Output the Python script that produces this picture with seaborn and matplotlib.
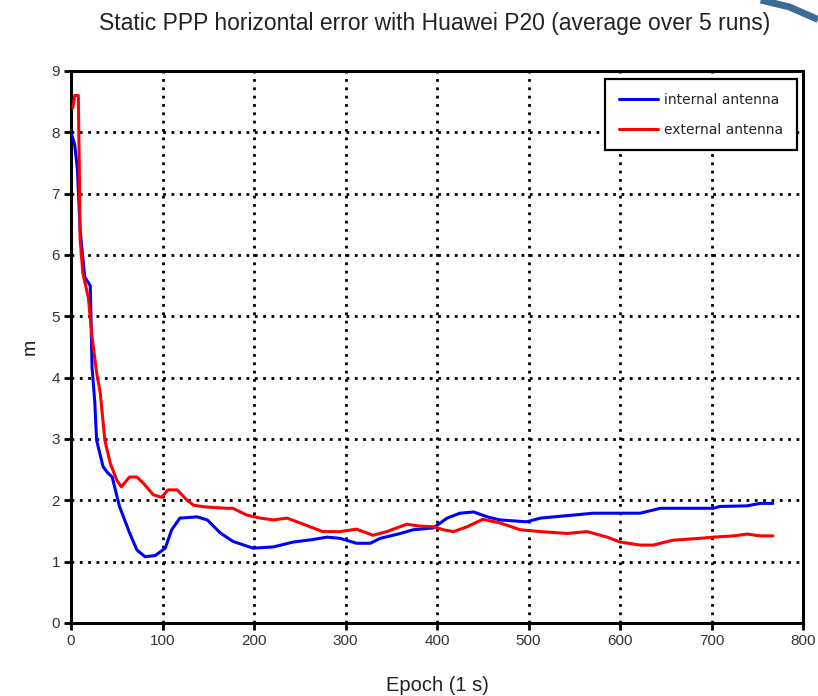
import numpy as np
import pandas as pd
import seaborn as sns
import matplotlib.pyplot as plt
from matplotlib.ticker import MultipleLocator
from matplotlib.lines import Line2D

# Horizontal error (m) per epoch, averaged over 5 runs
epoch_internal = [0, 4, 7, 10, 15, 21, 22, 23, 26, 28, 35, 40, 45, 53, 64, 72, 81, 92,
                  103, 110, 119, 138, 149, 163, 177, 199, 221, 243, 264, 280, 294,
                  312, 327, 338, 360, 374, 396, 411, 425, 440, 455, 469, 498, 513,
                  542, 571, 600, 622, 644, 673, 702, 709, 739, 753, 767]
error_internal = [8.0, 7.8, 7.4, 6.4, 5.64, 5.5, 4.9, 4.17, 3.6, 2.98, 2.55, 2.45, 2.38,
                  1.9, 1.47, 1.19, 1.08, 1.1, 1.22, 1.52, 1.71, 1.73, 1.68, 1.47,
                  1.33, 1.22, 1.24, 1.32, 1.36, 1.40, 1.38, 1.30, 1.30, 1.38, 1.46,
                  1.52, 1.55, 1.71, 1.79, 1.81, 1.73, 1.68, 1.65, 1.71, 1.75, 1.79,
                  1.79, 1.79, 1.87, 1.87, 1.87, 1.90, 1.91, 1.95, 1.95]

epoch_external = [2, 4, 8, 9, 10, 13, 19, 23, 28, 32, 37, 43, 50, 55, 64, 72, 79, 90,
                  99, 106, 116, 127, 134, 148, 170, 177, 192, 207, 221, 236, 247,
                  261, 275, 294, 312, 330, 345, 367, 381, 396, 407, 418, 433, 450,
                  469, 491, 513, 542, 564, 586, 600, 622, 636, 658, 687, 702, 724,
                  739, 753, 767]
error_external = [8.4, 8.6, 8.6, 7.5, 6.25, 5.7, 5.3, 4.67, 4.08, 3.75, 2.98, 2.6, 2.33,
                  2.22, 2.38, 2.38, 2.28, 2.09, 2.05, 2.17, 2.17, 2.0, 1.92, 1.89,
                  1.87, 1.87, 1.76, 1.71, 1.68, 1.71, 1.65, 1.57, 1.49, 1.49, 1.53,
                  1.43, 1.49, 1.61, 1.58, 1.57, 1.52, 1.49, 1.57, 1.69, 1.63, 1.52,
                  1.49, 1.46, 1.49, 1.40, 1.32, 1.27, 1.27, 1.35, 1.38, 1.40, 1.42,
                  1.45, 1.42, 1.42]

series_names = ["internal antenna", "external antenna"]
series_colors = ["#0000ff", "#ff0000"]

x_ticks = list(range(0, 801, 100))
y_ticks = list(range(0, 10))

df = pd.concat([
    pd.DataFrame({"epoch": epoch_internal, "error": error_internal, "antenna": series_names[0]}),
    pd.DataFrame({"epoch": epoch_external, "error": error_external, "antenna": series_names[1]}),
], ignore_index=True)

sns.set_style("white")
plt.rcParams["font.family"] = ["Liberation Sans", "DejaVu Sans"]

fig = plt.figure(figsize=(8.18, 6.96), dpi=100)
ax = fig.add_axes([0.0868, 0.1049, 0.8949, 0.7931])

sns.lineplot(data=df, x="epoch", y="error", hue="antenna", hue_order=series_names,
             palette=dict(zip(series_names, series_colors)), linewidth=2.2,
             estimator=None, sort=False, ax=ax, zorder=3)

ax.set_xlim(0, 800)
ax.set_ylim(0, 9)
ax.set_xticks(x_ticks)
ax.set_yticks(y_ticks)
ax.xaxis.set_minor_locator(MultipleLocator(50))
ax.yaxis.set_minor_locator(MultipleLocator(0.5))
ax.tick_params(axis="both", which="major", direction="out", length=5, width=2,
               labelsize=11, colors="black", labelcolor="#333333", pad=3)
ax.tick_params(axis="both", which="minor", direction="out", length=5, width=2)
ax.tick_params(left=True, bottom=True)

ax.grid(True, which="major", color="black", linestyle=(0, (1, 2)), linewidth=2)
for s in ax.spines.values():
    s.set_visible(True)
    s.set_color("black")
    s.set_linewidth(2.2)

ax.set_xlabel("Epoch (1 s)", fontsize=14.5, color="#222222", labelpad=20)
ax.set_ylabel("m", fontsize=14, color="#222222", labelpad=9)
fig.text(0.531, 0.966, "Static PPP horizontal error with Huawei P20 (average over 5 runs)",
         ha="center", va="center", fontsize=16.5, color="#222222")

leg = ax.legend(loc="upper right", bbox_to_anchor=(0.992, 0.986),
                prop={"family": "DejaVu Sans", "size": 10},
                frameon=True, fancybox=False, framealpha=1, edgecolor="black",
                handlelength=2.8, borderpad=1.0, labelspacing=1.15,
                handletextpad=0.45, borderaxespad=0)
leg.get_frame().set_linewidth(1.6)
for line in leg.get_lines():
    line.set_linewidth(2.2)

# slide ornament in the top-right corner
fig.add_artist(Line2D([0.93, 0.965, 1.0], [1.0, 0.99, 0.972], color="#3d6b96",
                      linewidth=5, solid_capstyle="butt", transform=fig.transFigure))

fig.savefig("out.png", dpi=100)
